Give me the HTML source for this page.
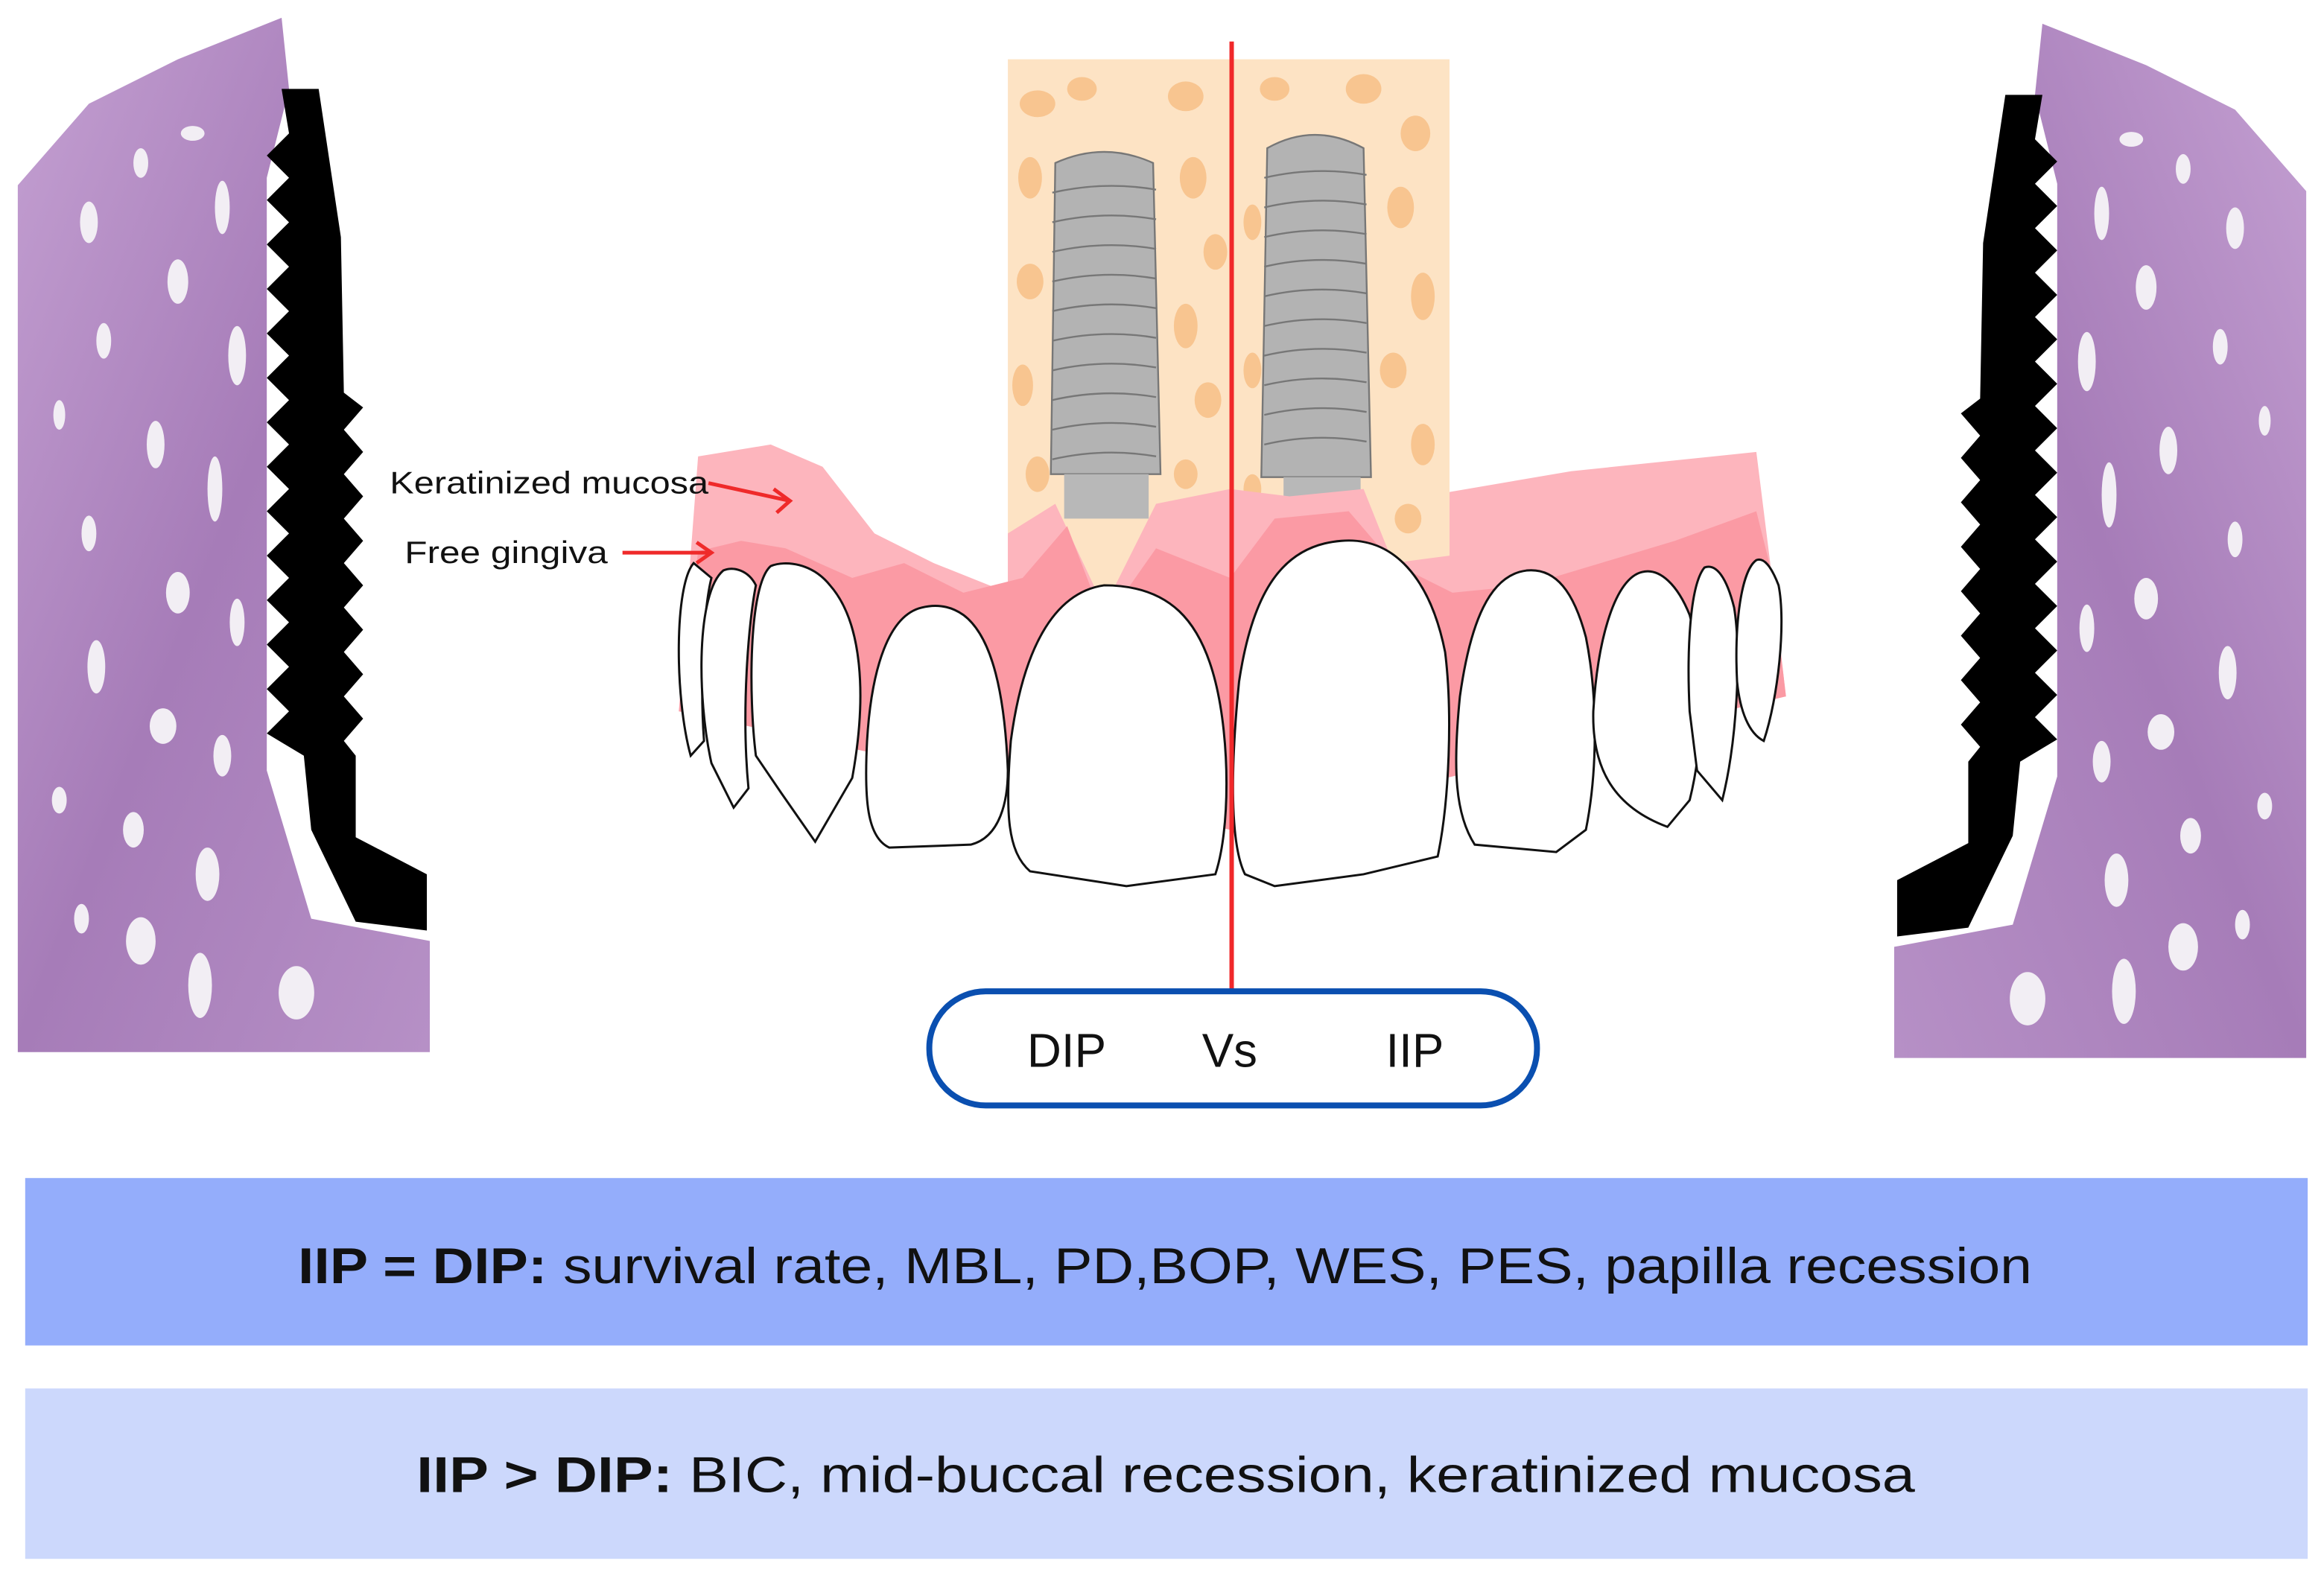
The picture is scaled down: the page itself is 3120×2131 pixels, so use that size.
<!DOCTYPE html>
<html><head><meta charset="utf-8"><style>
html,body{margin:0;padding:0;background:#fff;}
svg{display:block;}
</style></head><body>
<svg width="3120" height="2131" viewBox="0 0 1568 1071" preserveAspectRatio="none" xmlns="http://www.w3.org/2000/svg">
<defs>
<linearGradient id="pg" x1="0" y1="0" x2="1" y2="1">
<stop offset="0" stop-color="#c4a0d2"/><stop offset="0.5" stop-color="#a67cb8"/><stop offset="1" stop-color="#b690c6"/>
</linearGradient>
<g id="blobs">
<ellipse cx="60" cy="150" rx="6" ry="14" fill="#f2eef4"/>
<ellipse cx="95" cy="110" rx="5" ry="10" fill="#f2eef4"/>
<ellipse cx="130" cy="90" rx="8" ry="5" fill="#f2eef4"/>
<ellipse cx="150" cy="140" rx="5" ry="18" fill="#f2eef4"/>
<ellipse cx="120" cy="190" rx="7" ry="15" fill="#f2eef4"/>
<ellipse cx="70" cy="230" rx="5" ry="12" fill="#f2eef4"/>
<ellipse cx="160" cy="240" rx="6" ry="20" fill="#f2eef4"/>
<ellipse cx="40" cy="280" rx="4" ry="10" fill="#f2eef4"/>
<ellipse cx="105" cy="300" rx="6" ry="16" fill="#f2eef4"/>
<ellipse cx="145" cy="330" rx="5" ry="22" fill="#f2eef4"/>
<ellipse cx="60" cy="360" rx="5" ry="12" fill="#f2eef4"/>
<ellipse cx="120" cy="400" rx="8" ry="14" fill="#f2eef4"/>
<ellipse cx="160" cy="420" rx="5" ry="16" fill="#f2eef4"/>
<ellipse cx="65" cy="450" rx="6" ry="18" fill="#f2eef4"/>
<ellipse cx="110" cy="490" rx="9" ry="12" fill="#f2eef4"/>
<ellipse cx="150" cy="510" rx="6" ry="14" fill="#f2eef4"/>
<ellipse cx="40" cy="540" rx="5" ry="9" fill="#f2eef4"/>
<ellipse cx="90" cy="560" rx="7" ry="12" fill="#f2eef4"/>
<ellipse cx="140" cy="590" rx="8" ry="18" fill="#f2eef4"/>
<ellipse cx="95" cy="635" rx="10" ry="16" fill="#f2eef4"/>
<ellipse cx="135" cy="665" rx="8" ry="22" fill="#f2eef4"/>
<ellipse cx="200" cy="670" rx="12" ry="18" fill="#f2eef4"/>
<ellipse cx="55" cy="620" rx="5" ry="10" fill="#f2eef4"/>
</g>
</defs>

<path d="M12,125 L60,70 L120,40 L190,12 L195,60 L180,120 L180,520 L210,620 L290,635 L290,710 L12,710 Z" fill="url(#pg)"/>
<use href="#blobs"/>
<path d="M190,60 L215,60 L230,160 L232,265 L245,275 L232,290 L245,305 L232,320 L245,335 L232,350 L245,365 L232,380 L245,395 L232,410 L245,425 L232,440 L245,455 L232,470 L245,485 L232,500 L240,510 L240,565 L288,590 L288,628 L240,622 L210,560 L205,510 L180,495 L195,480 L180,465 L195,450 L180,435 L195,420 L180,405 L195,390 L180,375 L195,360 L180,345 L195,330 L180,315 L195,300 L180,285 L195,270 L180,255 L195,240 L180,225 L195,210 L180,195 L195,180 L180,165 L195,150 L180,135 L195,120 L180,105 L195,90 Z" fill="#000"/>

<g transform="translate(1568,4) scale(-1,1)">
<path d="M12,125 L60,70 L120,40 L190,12 L195,60 L180,120 L180,520 L210,620 L290,635 L290,710 L12,710 Z" fill="url(#pg)"/>
<use href="#blobs"/>
<path d="M190,60 L215,60 L230,160 L232,265 L245,275 L232,290 L245,305 L232,320 L245,335 L232,350 L245,365 L232,380 L245,395 L232,410 L245,425 L232,440 L245,455 L232,470 L245,485 L232,500 L240,510 L240,565 L288,590 L288,628 L240,622 L210,560 L205,510 L180,495 L195,480 L180,465 L195,450 L180,435 L195,420 L180,405 L195,390 L180,375 L195,360 L180,345 L195,330 L180,315 L195,300 L180,285 L195,270 L180,255 L195,240 L180,225 L195,210 L180,195 L195,180 L180,165 L195,150 L180,135 L195,120 L180,105 L195,90 Z" fill="#000"/>
</g>

<rect x="680" y="40" width="298" height="360" fill="#fde3c4"/>
<g fill="#f8c590">
<ellipse cx="700" cy="70" rx="12" ry="9"/><ellipse cx="730" cy="60" rx="10" ry="8"/><ellipse cx="800" cy="65" rx="12" ry="10"/>
<ellipse cx="695" cy="120" rx="8" ry="14"/><ellipse cx="805" cy="120" rx="9" ry="14"/><ellipse cx="820" cy="170" rx="8" ry="12"/>
<ellipse cx="695" cy="190" rx="9" ry="12"/><ellipse cx="800" cy="220" rx="8" ry="15"/><ellipse cx="815" cy="270" rx="9" ry="12"/>
<ellipse cx="690" cy="260" rx="7" ry="14"/><ellipse cx="700" cy="320" rx="8" ry="12"/><ellipse cx="800" cy="320" rx="8" ry="10"/>
<ellipse cx="860" cy="60" rx="10" ry="8"/><ellipse cx="920" cy="60" rx="12" ry="10"/><ellipse cx="955" cy="90" rx="10" ry="12"/>
<ellipse cx="945" cy="140" rx="9" ry="14"/><ellipse cx="960" cy="200" rx="8" ry="16"/><ellipse cx="940" cy="250" rx="9" ry="12"/>
<ellipse cx="960" cy="300" rx="8" ry="14"/><ellipse cx="845" cy="150" rx="6" ry="12"/><ellipse cx="845" cy="250" rx="6" ry="12"/>
<ellipse cx="950" cy="350" rx="9" ry="10"/><ellipse cx="845" cy="330" rx="6" ry="10"/>
</g>
<g stroke="#777" stroke-width="1.2">
<path d="M712,110 Q745,95 778,110 L783,320 L709,320 Z" fill="#b3b3b3"/>
<rect x="718" y="320" width="57" height="30" fill="#b8b8b8" stroke="none"/>
<path d="M855,100 Q887,82 920,100 L925,322 L851,322 Z" fill="#b3b3b3"/>
<rect x="866" y="322" width="52" height="14" fill="#b8b8b8" stroke="none"/>
<g fill="none">
<path d="M710,130 Q745,122 780,128 M710,150 Q745,142 780,148 M710,170 Q745,162 780,168 M710,190 Q745,182 780,188 M710,210 Q745,202 780,208 M710,230 Q745,222 780,228 M710,250 Q745,242 780,248 M710,270 Q745,262 780,268 M710,290 Q745,282 780,288 M710,310 Q745,302 780,308"/>
<path d="M853,120 Q887,112 922,118 M853,140 Q887,132 922,138 M853,160 Q887,152 922,158 M853,180 Q887,172 922,178 M853,200 Q887,192 922,198 M853,220 Q887,212 922,218 M853,240 Q887,232 922,238 M853,260 Q887,252 922,258 M853,280 Q887,272 922,278 M853,300 Q887,292 922,298"/>
</g>
</g>
<path d="M471,308 L520,300 L555,315 L590,360 L630,380 L680,400 L680,360 L712,340 L745,410 L780,340 L830,330 L870,335 L920,330 L940,380 L978,375 L978,332 L1060,318 L1185,305 L1195,385 L1205,470 L830,520 L458,480 Z" fill="#fdb5bd"/>
<path d="M471,372 L500,365 L530,370 L575,390 L610,380 L650,400 L690,390 L720,355 L745,420 L780,370 L830,390 L860,350 L910,345 L940,380 L980,400 L1030,395 L1080,380 L1130,365 L1185,345 L1195,385 L1205,470 L830,560 L458,480 Z" fill="#fb9aa4"/>

<g fill="#fff" stroke="#111" stroke-width="1.5">
<path d="M468,380 C455,395 455,470 466,510 L475,500 C472,460 475,410 480,390 Z"/>
<path d="M488,385 C470,400 470,470 480,515 L495,545 L505,532 C500,480 505,420 510,395 C505,385 495,382 488,385 Z"/>
<path d="M520,382 C505,395 505,470 510,510 L527,535 L550,568 L575,525 C585,470 582,420 560,395 C548,380 530,378 520,382 Z"/>
<path d="M622,410 C600,415 588,450 585,500 C583,540 585,565 600,572 L655,570 C675,565 680,540 680,520 C678,470 670,430 650,415 C640,408 630,408 622,410 Z"/>
<path d="M745,395 C710,400 690,440 682,500 C678,550 680,575 695,588 L760,598 L820,590 C830,560 830,500 820,460 C810,420 790,395 745,395 Z"/>
<path d="M905,365 C865,368 845,400 836,460 C830,520 830,570 840,590 L860,598 L920,590 L970,578 C978,540 980,480 975,440 C965,390 940,362 905,365 Z"/>
<path d="M1030,385 C1005,388 992,420 985,470 C980,520 982,550 995,570 L1050,575 L1070,560 C1078,520 1078,470 1070,430 C1062,400 1050,383 1030,385 Z"/>
<path d="M1108,386 C1090,390 1078,430 1075,480 C1074,520 1090,545 1125,558 L1140,540 C1150,500 1150,450 1140,415 C1132,395 1120,383 1108,386 Z"/>
<path d="M1150,383 C1140,395 1138,440 1140,480 L1145,520 L1162,540 C1172,500 1175,440 1170,410 C1165,390 1158,380 1150,383 Z"/>
<path d="M1185,378 C1175,385 1170,420 1172,460 C1174,480 1180,495 1190,500 C1200,470 1205,420 1200,395 C1195,382 1190,376 1185,378 Z"/>
</g>

<line x1="831" y1="28" x2="831" y2="668" stroke="#f0282a" stroke-width="3"/>

<text x="263" y="333" font-family="Liberation Sans, sans-serif" font-size="21" fill="#111" textLength="215" lengthAdjust="spacingAndGlyphs">Keratinized mucosa</text>
<path d="M478,326 L533,338 M522,330 L533,338 L524,346" stroke="#ef2a2a" stroke-width="2.5" fill="none"/>
<text x="273" y="380" font-family="Liberation Sans, sans-serif" font-size="21" fill="#111" textLength="137" lengthAdjust="spacingAndGlyphs">Free gingiva</text>
<path d="M420,373 L480,373 M470,366 L480,373 L470,380" stroke="#ef2a2a" stroke-width="2.5" fill="none"/>

<rect x="627" y="669" width="410" height="77" rx="38" ry="38" fill="#fff" stroke="#0a4fb0" stroke-width="4"/>
<g font-family="Liberation Sans, sans-serif" font-size="32" fill="#111">
<text x="693" y="720">DIP</text><text x="811" y="720">Vs</text><text x="935" y="720">IIP</text>
</g>

<rect x="17" y="795" width="1540" height="113" fill="#94adfb"/>
<rect x="17" y="937" width="1540" height="115" fill="#ccd8fc"/>
<text x="201" y="866" font-family="Liberation Sans, sans-serif" font-size="34" fill="#111" textLength="1170" lengthAdjust="spacingAndGlyphs"><tspan font-weight="bold">IIP = DIP:</tspan> survival rate, MBL, PD,BOP, WES, PES, papilla recession</text>
<text x="281" y="1007" font-family="Liberation Sans, sans-serif" font-size="34" fill="#111" textLength="1011" lengthAdjust="spacingAndGlyphs"><tspan font-weight="bold">IIP &gt; DIP:</tspan> BIC, mid-buccal recession, keratinized mucosa</text>
</svg>
</body></html>
